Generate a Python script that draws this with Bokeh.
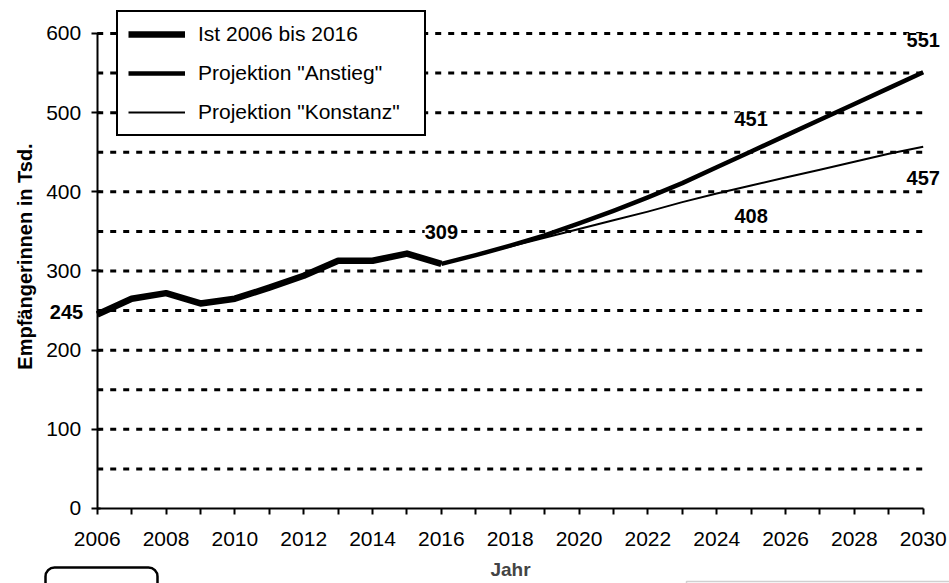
from bokeh.plotting import figure
from bokeh.models import (Range1d, FixedTicker, Legend, LegendItem, LabelSet,
                          ColumnDataSource, BoxAnnotation, LinearAxis)
from bokeh.core.properties import value
from bokeh.embed import file_html
from bokeh.resources import INLINE

# ---- data ----
years_ist = [2006, 2007, 2008, 2009, 2010, 2011, 2012, 2013, 2014, 2015, 2016]
ist = [245, 265, 272, 259, 265, 279, 294, 313, 313, 322, 309]
years_proj = [2016, 2017, 2018, 2019, 2020, 2021, 2022, 2023, 2024, 2025,
              2026, 2027, 2028, 2029, 2030]
anstieg = [309, 320, 332, 345, 360, 376, 393, 411, 431, 451, 471, 491, 511, 531, 551]
konstanz = [309, 320, 331, 342, 353, 364, 375, 387, 398, 408, 418, 428, 438, 448, 457]
series_names = ["Ist 2006 bis 2016", 'Projektion "Anstieg"', 'Projektion "Konstanz"']
x_ticks = [2006, 2008, 2010, 2012, 2014, 2016, 2018, 2020, 2022, 2024, 2026, 2028, 2030]
x_minor = [2007, 2009, 2011, 2013, 2015, 2017, 2019, 2021, 2023, 2025, 2027, 2029]
y_ticks = [0, 100, 200, 300, 400, 500, 600]
grid_vals = [50, 100, 150, 200, 250, 300, 350, 400, 450, 500, 550, 600]
x_first, x_last = years_ist[0], years_proj[-1]
y_min, y_max = y_ticks[0], y_ticks[-1]

FONT = "Liberation Sans"

# the plotting frame covers the whole canvas; axes are pinned at x=2006 / y=0
p = figure(width=949, height=583,
           x_range=Range1d(2003.19, 2030.764), y_range=Range1d(-94.74, 641.68),
           output_backend="svg", toolbar_location=None,
           min_border_left=0, min_border_right=0, min_border_top=0, min_border_bottom=0)
p.outline_line_color = None
p.background_fill_color = "white"
p.xgrid.visible = False
p.ygrid.visible = False

# dotted horizontal grid lines (drawn between first and last year)
p.segment(x0=[x_first] * len(grid_vals), y0=grid_vals,
          x1=[x_last] * len(grid_vals), y1=grid_vals,
          line_color="black", line_width=3, line_dash="6 7")

# axes
xa = p.xaxis[0]
xa.fixed_location = 0
xa.bounds = (x_first, x_last)
xa.ticker = FixedTicker(ticks=x_ticks, minor_ticks=x_minor)
xa.axis_line_width = 2
xa.major_tick_line_width = 2
xa.minor_tick_line_width = 2
xa.major_tick_out = 6
xa.major_tick_in = 0
xa.minor_tick_out = 6
xa.minor_tick_in = 0
xa.major_label_text_font = FONT
xa.major_label_text_font_size = "21px"
xa.major_label_text_color = "black"
xa.major_label_standoff = 18
xa.axis_label = "Jahr"
xa.axis_label_text_font = FONT
xa.axis_label_text_font_size = "19px"
xa.axis_label_text_font_style = "bold"
xa.axis_label_standoff = 9

ya = p.yaxis[0]
ya.fixed_location = x_first
ya.bounds = (y_min, y_max)
ya.ticker = FixedTicker(ticks=y_ticks)
ya.axis_line_width = 2
ya.major_tick_line_width = 2
ya.major_tick_out = 6
ya.major_tick_in = 3
ya.minor_tick_line_color = None
ya.major_label_text_font = FONT
ya.major_label_text_font_size = "21px"
ya.major_label_text_color = "black"
ya.major_label_standoff = 10

# y-axis title, centred on the plot area as in the original chart
ytitle = LinearAxis(fixed_location=x_first, bounds=(y_min, 637),
                    ticker=FixedTicker(ticks=[]), axis_line_color=None,
                    major_tick_line_color=None, minor_tick_line_color=None,
                    major_label_text_color=None,
                    axis_label="Empfängerinnen in Tsd.", axis_label_text_font=FONT,
                    axis_label_text_font_size="20px", axis_label_text_font_style="bold",
                    axis_label_text_color="black", axis_label_standoff=62)
p.add_layout(ytitle, "left")

# lines
r_kon = p.line(years_proj, konstanz, line_color="black", line_width=2, line_join="round")
r_ans = p.line(years_proj, anstieg, line_color="black", line_width=4.5, line_join="round")
r_ist = p.line(years_ist, ist, line_color="black", line_width=6.5, line_join="round")

# data labels
lab_style = dict(text_font=value(FONT), text_font_size="20px", text_font_style="bold",
                 text_color="black", text_baseline="middle")
src_above = ColumnDataSource(dict(x=[years_ist[-1], years_proj[9], years_proj[-1]],
                                  y=[ist[-1], anstieg[9], anstieg[-1]],
                                  t=[str(ist[-1]), str(anstieg[9]), str(anstieg[-1])]))
src_below = ColumnDataSource(dict(x=[years_proj[9], years_proj[-1]],
                                  y=[konstanz[9], konstanz[-1]],
                                  t=[str(konstanz[9]), str(konstanz[-1])]))
src_left = ColumnDataSource(dict(x=[years_ist[0]], y=[ist[0]], t=[str(ist[0])]))
p.add_layout(LabelSet(x="x", y="y", text="t", source=src_above, y_offset=32,
                      text_align="center", background_fill_color="white", **lab_style))
p.add_layout(LabelSet(x="x", y="y", text="t", source=src_below, y_offset=-31,
                      text_align="center", background_fill_color="white", **lab_style))
p.add_layout(LabelSet(x="x", y="y", text="t", source=src_left, x_offset=-14, y_offset=3,
                      text_align="right", **lab_style))

# legend
legend = Legend(items=[LegendItem(label=series_names[0], renderers=[r_ist]),
                       LegendItem(label=series_names[1], renderers=[r_ans]),
                       LegendItem(label=series_names[2], renderers=[r_kon])],
                location=(116, 447), margin=0, padding=10, spacing=15,
                glyph_width=57, glyph_height=24, label_height=24, label_width=216,
                label_standoff=13, label_text_font=FONT, label_text_font_size="21px",
                label_text_color="black", label_text_baseline="middle",
                border_line_color="black", border_line_width=2, border_line_alpha=1,
                background_fill_color="white", background_fill_alpha=1)
p.add_layout(legend, "center")

# partly visible boxes at the bottom edge of the picture
p.add_layout(BoxAnnotation(left=45, right=157, top=16, bottom=-30,
                           left_units="screen", right_units="screen",
                           top_units="screen", bottom_units="screen",
                           fill_color=None, fill_alpha=0, line_color="black",
                           line_alpha=1, line_width=2.5, border_radius=9))
p.add_layout(BoxAnnotation(left=686, right=1000, top=2, bottom=-30,
                           left_units="screen", right_units="screen",
                           top_units="screen", bottom_units="screen",
                           fill_color=None, fill_alpha=0, line_color="#d0d0d0",
                           line_alpha=1, line_width=1.5))

open("out.html", "w").write(file_html(p, INLINE))
